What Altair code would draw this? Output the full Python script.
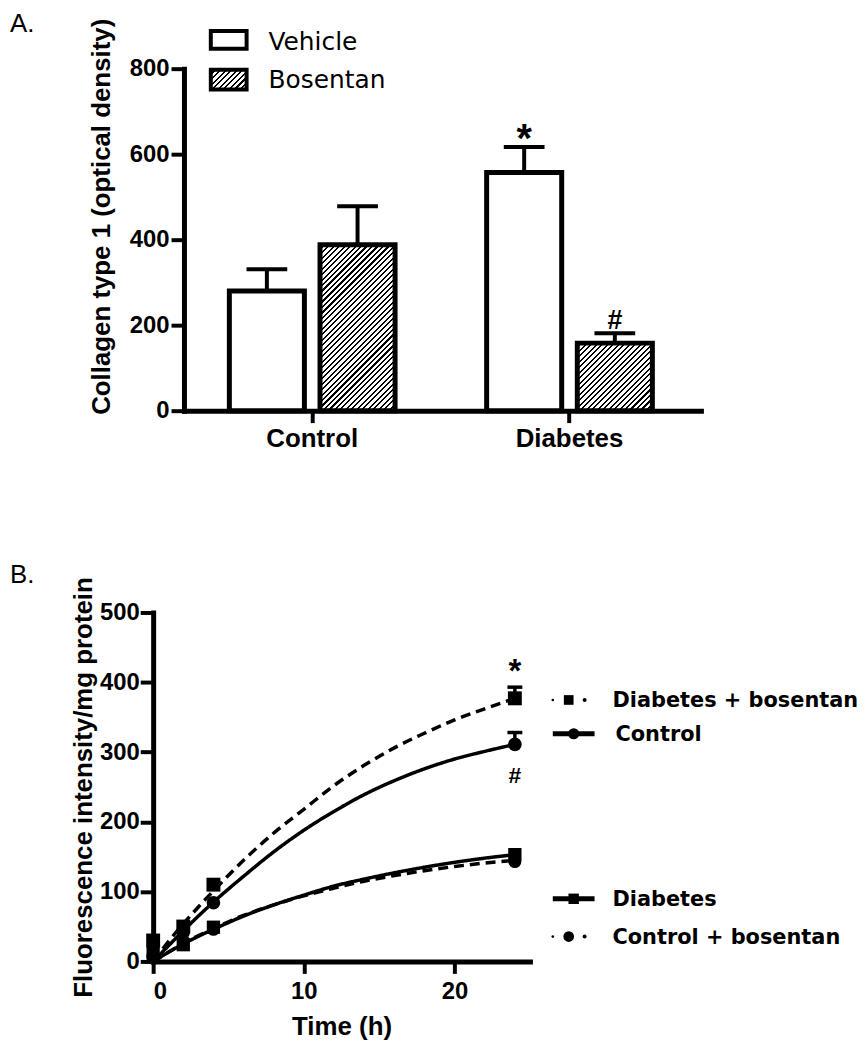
import math
import altair as alt
import pandas as pd

# ---------------- Panel A data ----------------
a_groups = ["Control", "Control", "Diabetes", "Diabetes"]
a_treatments = ["Vehicle", "Bosentan", "Vehicle", "Bosentan"]
a_mean = [280, 388, 557, 158]
a_upper = [331, 478, 617, 181]
a_flags = ["", "", "*", "#"]
a_yticks = [0, 200, 400, 600, 800]
a_legend = ["Vehicle", "Bosentan"]

# ---------------- Panel B data ----------------
b_series = ["Diabetes + bosentan", "Control", "Diabetes", "Control + bosentan"]
b_obs_time = [0, 2, 4, 24]
b_obs_dbos = [30, 50, 110, 377]
b_obs_ctrl = [8, 42, 84, 311]
b_obs_diab = [12, 24, 49, 153]
b_obs_cbos = [5, 30, 46, 143]
b_err_time = [24, 24]
b_err_series = ["Diabetes + bosentan", "Control"]
b_err_mean = [377, 311]
b_err_upper = [393, 328]
b_fit_time = [0, 1, 2, 3, 4, 6, 8, 10, 12, 14, 16, 18, 20, 22, 24]
b_fit_dbos = [0, 28, 54, 78, 101, 145, 184, 218, 252, 281, 306, 327, 346, 362, 377]
b_fit_ctrl = [0, 22, 44, 65, 85, 122, 157, 188, 215, 239, 259, 276, 290, 301, 311]
b_fit_diab = [0, 13, 25, 36, 46, 65, 81, 95, 108, 118, 127, 135, 142, 148, 153]
b_fit_cbos = [0, 13, 26, 37, 47, 66, 81, 94, 105, 115, 123, 130, 136, 141, 145]
b_xticks = [0, 10, 20]
b_yticks = [0, 100, 200, 300, 400, 500]

# ---------------- layout constants ----------------
A_W, A_H = 551, 344
A_AXIS_X = 31            # y axis of panel A sits 31px right of panel B's
B_W, B_H = 379, 351
LABEL_FONT = "Liberation Sans"
LEG_FONT = "DejaVu Sans"

# band scale for panel A
a_step = 258.8
a_group_w = 166.7
a_inner = 1 - a_group_w / a_step
a_span = A_W - A_AXIS_X
a_outer = (a_span / a_step - 2 + a_inner) / 2
a_left = (160 - A_AXIS_X) - a_group_w / 2
a_align = a_left / (a_span - a_step * (2 - a_inner))
bar_w = 75.5
sub_step = a_group_w - bar_w
sub_inner = 1 - bar_w / sub_step


def hatch(w, h, period=3.9, line=1.5):
    L = (w + h) / math.sqrt(2)
    n = max(1, int(round(L / period)))
    t = (1 / h + 1 / w) / (1 / h ** 2 + 1 / w ** 2)
    f = line / period
    stops = []
    for i in range(n):
        a = i / n
        b = (i + 1 - f) / n
        c = (i + 1) / n
        stops += [{"offset": a, "color": "white"}, {"offset": b, "color": "white"},
                  {"offset": b, "color": "black"}, {"offset": c, "color": "black"}]
    return {"gradient": "linear", "x1": 0, "y1": 0, "x2": t / h, "y2": t / w, "stops": stops}


dfA = pd.DataFrame({"group": a_groups, "treatment": a_treatments,
                    "mean": a_mean, "upper": a_upper, "flag": a_flags})

xA = alt.X("group:N",
           scale=alt.Scale(domain=["Control", "Diabetes"], range=[A_AXIS_X, A_W],
                           paddingInner=a_inner, paddingOuter=a_outer, align=a_align),
           axis=alt.Axis(title=None, labelAngle=0, labelFontSize=26, tickSize=12,
                         labelPadding=3, domainCap="square"))
xoffA = alt.XOffset("treatment:N",
                    scale=alt.Scale(domain=["Vehicle", "Bosentan"], paddingInner=sub_inner,
                                    paddingOuter=0))
axisYA = alt.Axis(title="Collagen type 1 (optical density)", values=a_yticks, offset=-A_AXIS_X,
                  labelFontSize=24, tickSize=13, labelPadding=2, titleFontSize=26,
                  titlePadding=15, titleY=148.5, domainCap="square")
scaleYA = alt.Scale(domain=[0, 800], nice=False)


def yA(field):
    return alt.Y(field, scale=scaleYA, axis=axisYA)


baseA = alt.Chart(dfA)
bars_vehicle = baseA.transform_filter(alt.datum.treatment == "Vehicle").mark_bar(
    fill="white", stroke="black", strokeWidth=5).encode(x=xA, xOffset=xoffA, y=yA("mean:Q"))
hatched = []
for g, tr, m in zip(a_groups, a_treatments, a_mean):
    if tr != "Bosentan":
        continue
    h = m / 800 * A_H
    hatched.append(
        baseA.transform_filter((alt.datum.group == g) & (alt.datum.treatment == "Bosentan"))
        .mark_bar(fill=hatch(bar_w, h), stroke="black", strokeWidth=5)
        .encode(x=xA, xOffset=xoffA, y=yA("mean:Q")))
err_rule = baseA.mark_rule(color="black", strokeWidth=4).encode(
    x=xA, xOffset=xoffA, y=yA("mean:Q"), y2="upper:Q")
err_cap = baseA.mark_tick(color="black", thickness=4, size=41, opacity=1).encode(
    x=xA, xOffset=xoffA, y=yA("upper:Q"))
star_a = baseA.transform_filter(alt.datum.flag == "*").mark_text(
    font=LABEL_FONT, fontWeight="bold", fontSize=40, baseline="alphabetic", dy=5, color="black"
).encode(x=xA, xOffset=xoffA, y=yA("upper:Q"), text="flag:N")
hash_a = baseA.transform_filter(alt.datum.flag == "#").mark_text(
    font=LABEL_FONT, fontWeight="bold", fontSize=27, baseline="alphabetic", dy=-4, color="black"
).encode(x=xA, xOffset=xoffA, y=yA("upper:Q"), text="flag:N")

dfLegA = pd.DataFrame({"label": a_legend})
leg_a_veh_box = alt.Chart(dfLegA).transform_filter(alt.datum.label == "Vehicle").mark_rect(
    fill="white", stroke="black", strokeWidth=4).encode(
    x=alt.value(58), x2=alt.value(94), y=alt.value(-38), y2=alt.value(-20))
leg_a_bos_box = alt.Chart(dfLegA).transform_filter(alt.datum.label == "Bosentan").mark_rect(
    fill=hatch(36, 20), stroke="black", strokeWidth=4).encode(
    x=alt.value(58), x2=alt.value(94), y=alt.value(1), y2=alt.value(21))
leg_a_veh_txt = alt.Chart(dfLegA).transform_filter(alt.datum.label == "Vehicle").mark_text(
    font=LEG_FONT, fontSize=25, align="left", baseline="middle", color="black").encode(
    x=alt.value(116), y=alt.value(-26.5), text="label:N")
leg_a_bos_txt = alt.Chart(dfLegA).transform_filter(alt.datum.label == "Bosentan").mark_text(
    font=LEG_FONT, fontSize=25, align="left", baseline="middle", color="black").encode(
    x=alt.value(116), y=alt.value(11.5), text="label:N")
tag_a = alt.Chart(pd.DataFrame({"t": ["A."]})).mark_text(
    font=LABEL_FONT, fontSize=26, align="left", baseline="alphabetic", color="black").encode(
    x=alt.value(-144), y=alt.value(-36.5), text="t:N")

panelA = alt.layer(bars_vehicle, *hatched, err_rule, err_cap, star_a, hash_a,
                   leg_a_veh_box, leg_a_bos_box, leg_a_veh_txt, leg_a_bos_txt, tag_a
                   ).properties(width=A_W, height=A_H)

# ---------------- Panel B ----------------
fit_vals = {"Diabetes + bosentan": b_fit_dbos, "Control": b_fit_ctrl,
            "Diabetes": b_fit_diab, "Control + bosentan": b_fit_cbos}
obs_vals = {"Diabetes + bosentan": b_obs_dbos, "Control": b_obs_ctrl,
            "Diabetes": b_obs_diab, "Control + bosentan": b_obs_cbos}
dfFit = pd.DataFrame([{"series": s, "time": t, "value": v}
                      for s in b_series for t, v in zip(b_fit_time, fit_vals[s])])
dfObs = pd.DataFrame([{"series": s, "time": t, "value": v}
                      for s in b_series for t, v in zip(b_obs_time, obs_vals[s])])
dfErr = pd.DataFrame({"series": b_err_series, "time": b_err_time,
                      "value": b_err_mean, "upper": b_err_upper,
                      "flag": ["*", "#"]})

xB = alt.X("time:Q", scale=alt.Scale(domain=[0, 25], nice=False),
           axis=alt.Axis(title="Time (h)", values=b_xticks, labelFontSize=24, tickSize=12,
                         labelPadding=6, titleFontSize=26, titlePadding=10,
                         domainCap="square"))
axisYB = alt.Axis(title="Fluorescence intensity/mg protein", values=b_yticks, labelFontSize=24,
                  tickSize=13, labelPadding=1, titleFontSize=26, titlePadding=3,
                  domainCap="square")
scaleYB = alt.Scale(domain=[0, 500], nice=False)


def yB(field):
    return alt.Y(field, scale=scaleYB, axis=axisYB)


dash_scale = alt.Scale(domain=b_series, range=[[10, 6], [1, 0], [1, 0], [10, 6]])
lines = alt.Chart(dfFit).mark_line(color="black", strokeWidth=3.5, interpolate="monotone").encode(
    x=xB, y=yB("value:Q"), detail="series:N",
    strokeDash=alt.StrokeDash("series:N", scale=dash_scale, legend=None))
points = alt.Chart(dfObs).mark_point(filled=True, color="black", opacity=1).encode(
    x=xB, y=yB("value:Q"),
    shape=alt.Shape("series:N", scale=alt.Scale(domain=b_series,
                                                range=["square", "circle", "square", "circle"]),
                    legend=None),
    size=alt.Size("series:N", scale=alt.Scale(domain=b_series, range=[196, 170, 196, 170]),
                  legend=None))
err_b = alt.Chart(dfErr).mark_rule(color="black", strokeWidth=3.5).encode(
    x=xB, y=yB("value:Q"), y2="upper:Q")
cap_b = alt.Chart(dfErr).mark_tick(color="black", orient="horizontal", size=15, thickness=3.5,
                                   opacity=1).encode(x=xB, y=yB("upper:Q"))
star_b = alt.Chart(dfErr).transform_filter(alt.datum.flag == "*").mark_text(
    font=LABEL_FONT, fontWeight="bold", fontSize=33, baseline="alphabetic", dy=-5, color="black"
).encode(x=xB, y=yB("upper:Q"), text="flag:N")
hash_b = alt.Chart(dfErr).transform_filter(alt.datum.flag == "#").mark_text(
    font=LABEL_FONT, fontWeight="bold", fontSize=23, baseline="alphabetic", dy=38.5, color="black"
).encode(x=xB, y=yB("value:Q"), text="flag:N")

# manual legend for panel B
leg_rows = {"Diabetes + bosentan": (88, True, "square", 462),
            "Control": (122, False, "circle", 465),
            "Diabetes": (288, False, "square", 462),
            "Control + bosentan": (326, True, "circle", 462)}
dfLegB = pd.DataFrame({"series": b_series})
leg_layers = []
for s in b_series:
    ry, dashed, shp, tx = leg_rows[s]
    src = alt.Chart(dfLegB).transform_filter(alt.datum.series == s)
    if dashed:
        leg_layers.append(src.mark_circle(color="black", opacity=1, size=7).encode(
            x=alt.value(402), y=alt.value(ry)))
        leg_layers.append(src.mark_circle(color="black", opacity=1, size=16).encode(
            x=alt.value(434), y=alt.value(ry)))
        leg_layers.append(src.mark_point(shape=shp, filled=True, color="black", opacity=1,
                                         size=95 if shp == "square" else 115).encode(
            x=alt.value(418), y=alt.value(ry)))
    else:
        leg_layers.append(src.mark_rule(color="black", strokeWidth=5).encode(
            x=alt.value(402), x2=alt.value(444), y=alt.value(ry)))
        leg_layers.append(src.mark_point(shape=shp, filled=True, color="black", opacity=1,
                                         size=110 if shp == "square" else 125).encode(
            x=alt.value(423), y=alt.value(ry)))
    leg_layers.append(src.mark_text(font=LEG_FONT, fontWeight="bold", fontSize=21, align="left",
                                    baseline="middle", color="black").encode(
        x=alt.value(tx), y=alt.value(ry + 1), text="series:N"))

tag_b = alt.Chart(pd.DataFrame({"t": ["B."]})).mark_text(
    font=LABEL_FONT, fontSize=26, align="left", baseline="alphabetic", color="black").encode(
    x=alt.value(-144), y=alt.value(-30), text="t:N")

panelB = alt.layer(lines, points, err_b, cap_b, star_b, hash_b, *leg_layers, tag_b
                   ).properties(width=B_W, height=B_H)

chart = alt.vconcat(panelA, panelB, spacing=111).properties(
    padding={"left": 2, "top": 0, "right": 0, "bottom": 0}, background="white"
).configure_view(stroke=None).configure_axis(
    grid=False, domainColor="black", domainWidth=5, tickColor="black", tickWidth=4,
    labelColor="black", titleColor="black", labelFont=LABEL_FONT, titleFont=LABEL_FONT,
    labelFontWeight="bold", titleFontWeight="bold")

chart.save("out.html", embed_options={"renderer": "svg", "actions": False})
